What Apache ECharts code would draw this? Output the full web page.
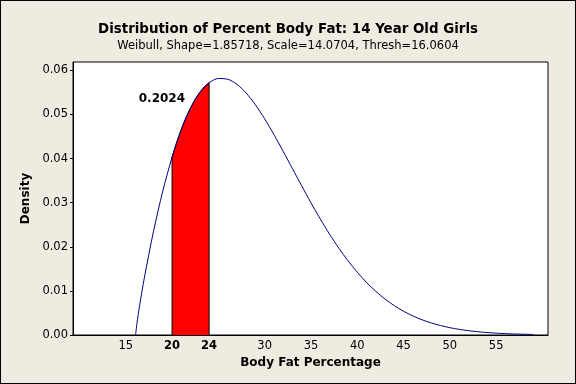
<!DOCTYPE html>
<html><head><meta charset="utf-8">
<script src="https://cdn.jsdelivr.net/npm/echarts@6/dist/echarts.min.js"></script>
<style>html,body{margin:0;padding:0;background:#EFEBE1;}#c{width:574px;height:382px;border:1px solid #000;}</style>
</head><body><div id="c"></div>
<script>
// Curve (x = body fat %, y = density)
const curveX = [16.06,16.2,16.5,17,18,19,20,20.5,21,21.5,22,22.5,23,23.5,24,25,26,27,28,29,30,31,32,33,34,35,36,37,38,39,40,41,42,43,44,45,46,47,48,49,50,51,52,53,54,55,56,57,58,59];
const curveY = [0,0.00253,0.00676,0.01289,0.02355,0.03266,0.04035,0.04367,0.04663,0.04925,0.05152,0.05344,0.05503,0.05628,0.05721,0.05816,0.05800,0.05685,0.05486,0.05219,0.04901,0.04544,0.04164,0.03772,0.03381,0.02999,0.02633,0.02289,0.01972,0.01683,0.01423,0.01192,0.00990,0.00815,0.00666,0.00539,0.00433,0.00345,0.00272,0.00214,0.00166,0.00128,0.00098,0.00075,0.00056,0.00042,0.00031,0.00023,0.00017,0.00012];
const shadeFrom = 20, shadeTo = 24;
const areaLabel = '0.2024';
const xTicks = [15,20,24,30,35,40,45,50,55];
const boldTicks = [20,24];
const yTicks = [0,0.01,0.02,0.03,0.04,0.05,0.06];

const curve = curveX.map((x,i)=>[x,curveY[i]]);
const inner = curve.filter(p=>p[0]>=shadeFrom && p[0]<=shadeTo);
const shade = [[shadeFrom,0]].concat(inner,[[shadeTo,0]]);

const chart = echarts.init(document.getElementById('c'));
const font = 'DejaVu Sans';
chart.setOption({
  animation:false,
  backgroundColor:'#EFEBE1',
  title:{text:'Distribution of Percent Body Fat: 14 Year Old Girls',
    subtext:'Weibull, Shape=1.85718, Scale=14.0704, Thresh=16.0604',
    left:'center', top:17, itemGap:4,
    textStyle:{fontFamily:font,fontSize:13.4,fontWeight:'bold',color:'#000'},
    subtextStyle:{fontFamily:font,fontSize:11.5,color:'#000'}},
  grid:{left:72,right:27,top:61,bottom:48,show:true,backgroundColor:'#fff',borderColor:'#000',borderWidth:1},
  xAxis:{type:'value',min:9.3,max:60.6,
    name:'Body Fat Percentage',nameLocation:'middle',nameGap:22,
    nameTextStyle:{fontFamily:font,fontSize:12,fontWeight:'bold',color:'#000'},
    axisLine:{show:true,onZero:false,lineStyle:{color:'#000'}},
    axisTick:{show:false},
    axisLabel:{customValues:xTicks,margin:5,fontFamily:font,fontSize:11.5,color:'#000',
      formatter:v=>boldTicks.includes(v)?'{b|'+v+'}':String(v),
      rich:{b:{fontFamily:font,fontSize:11.5,fontWeight:'bold',color:'#000'}}},
    splitLine:{show:false}},
  yAxis:{type:'value',min:0,max:0.0619,
    name:'Density',nameLocation:'middle',nameGap:41,
    nameTextStyle:{fontFamily:font,fontSize:12,fontWeight:'bold',color:'#000'},
    axisLine:{show:true,lineStyle:{color:'#000'}},
    axisTick:{show:true,length:3,customValues:yTicks,lineStyle:{color:'#000'}},
    axisLabel:{customValues:yTicks,margin:5,fontFamily:font,fontSize:11.5,color:'#000',formatter:v=>v.toFixed(2)},
    splitLine:{show:false}},
  series:[
    {type:'line',data:shade,symbol:'none',smooth:false,
     lineStyle:{color:'#000',width:1},areaStyle:{color:'#FF0000',opacity:1},z:2,
     markPoint:{symbol:'circle',symbolSize:0,
       data:[{coord:[16.4,0.0535],value:areaLabel}],
       label:{show:true,position:'right',distance:0,formatter:areaLabel,fontFamily:font,fontSize:12,fontWeight:'bold',color:'#000'}}},
    {type:'line',data:curve,symbol:'none',smooth:0.3,lineStyle:{color:'#000080',width:1},z:3}
  ]
});
</script></body></html>
